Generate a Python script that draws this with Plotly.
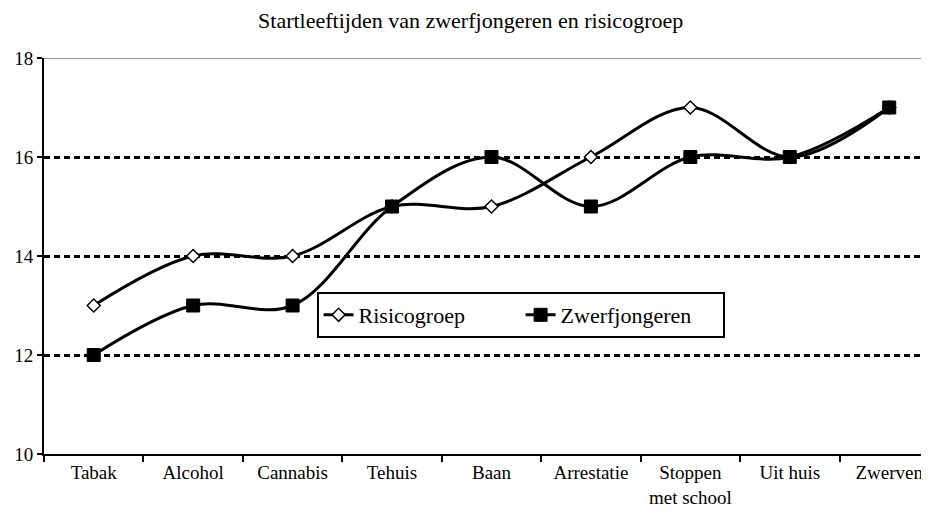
import plotly.graph_objects as go

categories = ["Tabak", "Alcohol", "Cannabis", "Tehuis", "Baan", "Arrestatie",
              "Stoppen<br>met school", "Uit huis", "Zwerven"]
risicogroep = [13, 14, 14, 15, 15, 16, 17, 16, 17]
zwerfjongeren = [12, 13, 13, 15, 16, 15, 16, 16, 17]
y_ticks = [10, 12, 14, 16, 18]

font = "Liberation Serif"

fig = go.Figure()
fig.add_trace(go.Scatter(
    x=categories, y=risicogroep, name="Risicogroep", mode="lines+markers",
    line=dict(color="black", width=3, shape="spline", smoothing=1),
    marker=dict(symbol="diamond", size=10, color="white",
                line=dict(color="black", width=1.5)),
))
fig.add_trace(go.Scatter(
    x=categories, y=zwerfjongeren, name="Zwerfjongeren", mode="lines+markers",
    line=dict(color="black", width=3, shape="spline", smoothing=1),
    marker=dict(symbol="square", size=13, color="black",
                line=dict(color="black", width=1)),
))

fig.add_shape(type="line", xref="paper", yref="y", x0=0, x1=1, y0=18, y1=18,
              line=dict(color="#999999", width=2), layer="below")

fig.update_layout(
    width=929, height=522,
    margin=dict(l=36, r=8, t=50, b=76, autoexpand=False),
    paper_bgcolor="white", plot_bgcolor="white",
    font=dict(family=font, size=19, color="black"),
    title=dict(text="Startleeftijden van zwerfjongeren en risicogroep",
               x=0.498, xanchor="center", y=0.977, yanchor="middle",
               font=dict(size=22)),
    showlegend=True,
    legend=dict(orientation="h", x=0.308, y=0.409, xanchor="left", yanchor="top",
                bordercolor="black", borderwidth=2, bgcolor="white",
                font=dict(size=22), entrywidth=157, tracegroupgap=0),
    xaxis=dict(type="category", range=[-0.5, 8.4], showgrid=False, automargin=False,
               showline=True, linecolor="black", linewidth=2,
               ticks="outside", tickson="boundaries", ticklen=6, tickwidth=2,
               tickcolor="black", tickfont=dict(size=19)),
    yaxis=dict(range=[10, 18], tickvals=y_ticks, automargin=False,
               showgrid=True, gridcolor="black", griddash="6px,4px", gridwidth=2.5,
               showline=True, linecolor="black", linewidth=2,
               ticks="outside", ticklen=5, tickwidth=2, tickcolor="black",
               zeroline=False, tickfont=dict(size=19)),
)

fig.write_html("out.html")
